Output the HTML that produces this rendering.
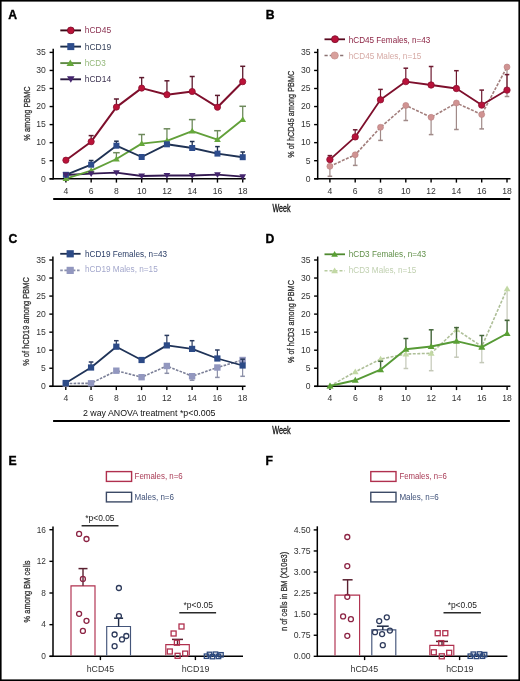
<!DOCTYPE html><html><head><meta charset="utf-8"><style>html,body{margin:0;padding:0;background:#fff;}svg{display:block;will-change:transform;}</style></head><body>
<svg width="520" height="681" viewBox="0 0 520 681" font-family='"Liberation Sans", sans-serif'>
<rect x="0" y="0" width="520" height="681" fill="#fff"/>
<text x="8.2" y="18.5" font-size="12.2" fill="#000" text-anchor="start" font-weight="bold" stroke="#000" stroke-width="0.35">A</text>
<text x="265.8" y="18.6" font-size="12.2" fill="#000" text-anchor="start" font-weight="bold" stroke="#000" stroke-width="0.35">B</text>
<text x="8.6" y="242.8" font-size="12.2" fill="#000" text-anchor="start" font-weight="bold" stroke="#000" stroke-width="0.35">C</text>
<text x="265.6" y="242.8" font-size="12.2" fill="#000" text-anchor="start" font-weight="bold" stroke="#000" stroke-width="0.35">D</text>
<text x="8.6" y="464.8" font-size="12.2" fill="#000" text-anchor="start" font-weight="bold" stroke="#000" stroke-width="0.35">E</text>
<text x="265.6" y="464.8" font-size="12.2" fill="#000" text-anchor="start" font-weight="bold" stroke="#000" stroke-width="0.35">F</text>
<line x1="53.2" y1="48.8" x2="53.2" y2="179.55" stroke="#000" stroke-width="1.5" stroke-linecap="butt"/>
<line x1="49.6" y1="52.4" x2="53.2" y2="52.4" stroke="#000" stroke-width="1.4" stroke-linecap="butt"/>
<text x="45.9" y="55.2" font-size="8.6" fill="#333" text-anchor="end">35</text>
<line x1="49.6" y1="70.45" x2="53.2" y2="70.45" stroke="#000" stroke-width="1.4" stroke-linecap="butt"/>
<text x="45.9" y="73.25" font-size="8.6" fill="#333" text-anchor="end">30</text>
<line x1="49.6" y1="88.5" x2="53.2" y2="88.5" stroke="#000" stroke-width="1.4" stroke-linecap="butt"/>
<text x="45.9" y="91.3" font-size="8.6" fill="#333" text-anchor="end">25</text>
<line x1="49.6" y1="106.55" x2="53.2" y2="106.55" stroke="#000" stroke-width="1.4" stroke-linecap="butt"/>
<text x="45.9" y="109.35" font-size="8.6" fill="#333" text-anchor="end">20</text>
<line x1="49.6" y1="124.6" x2="53.2" y2="124.6" stroke="#000" stroke-width="1.4" stroke-linecap="butt"/>
<text x="45.9" y="127.4" font-size="8.6" fill="#333" text-anchor="end">15</text>
<line x1="49.6" y1="142.65" x2="53.2" y2="142.65" stroke="#000" stroke-width="1.4" stroke-linecap="butt"/>
<text x="45.9" y="145.45" font-size="8.6" fill="#333" text-anchor="end">10</text>
<line x1="49.6" y1="160.7" x2="53.2" y2="160.7" stroke="#000" stroke-width="1.4" stroke-linecap="butt"/>
<text x="45.9" y="163.5" font-size="8.6" fill="#333" text-anchor="end">5</text>
<line x1="49.6" y1="178.75" x2="53.2" y2="178.75" stroke="#000" stroke-width="1.4" stroke-linecap="butt"/>
<text x="45.9" y="181.55" font-size="8.6" fill="#333" text-anchor="end">0</text>
<line x1="49.6" y1="178.8" x2="53.2" y2="178.8" stroke="#000" stroke-width="1.5" stroke-linecap="butt"/>
<line x1="53.2" y1="178.8" x2="245.6" y2="178.8" stroke="#000" stroke-width="1.5" stroke-linecap="butt"/>
<line x1="65.9" y1="178.8" x2="65.9" y2="182.6" stroke="#000" stroke-width="1.4" stroke-linecap="butt"/>
<line x1="91.16" y1="178.8" x2="91.16" y2="182.6" stroke="#000" stroke-width="1.4" stroke-linecap="butt"/>
<line x1="116.42" y1="178.8" x2="116.42" y2="182.6" stroke="#000" stroke-width="1.4" stroke-linecap="butt"/>
<line x1="141.68" y1="178.8" x2="141.68" y2="182.6" stroke="#000" stroke-width="1.4" stroke-linecap="butt"/>
<line x1="166.94" y1="178.8" x2="166.94" y2="182.6" stroke="#000" stroke-width="1.4" stroke-linecap="butt"/>
<line x1="192.2" y1="178.8" x2="192.2" y2="182.6" stroke="#000" stroke-width="1.4" stroke-linecap="butt"/>
<line x1="217.46" y1="178.8" x2="217.46" y2="182.6" stroke="#000" stroke-width="1.4" stroke-linecap="butt"/>
<line x1="242.72" y1="178.8" x2="242.72" y2="182.6" stroke="#000" stroke-width="1.4" stroke-linecap="butt"/>
<text x="65.9" y="193.7" font-size="8.6" fill="#333" text-anchor="middle">4</text>
<text x="91.16" y="193.7" font-size="8.6" fill="#333" text-anchor="middle">6</text>
<text x="116.42" y="193.7" font-size="8.6" fill="#333" text-anchor="middle">8</text>
<text x="141.68" y="193.7" font-size="8.6" fill="#333" text-anchor="middle">10</text>
<text x="166.94" y="193.7" font-size="8.6" fill="#333" text-anchor="middle">12</text>
<text x="192.2" y="193.7" font-size="8.6" fill="#333" text-anchor="middle">14</text>
<text x="217.46" y="193.7" font-size="8.6" fill="#333" text-anchor="middle">16</text>
<text x="242.72" y="193.7" font-size="8.6" fill="#333" text-anchor="middle">18</text>
<text x="29.9" y="113.5" font-size="9.8" fill="#333" text-anchor="middle" textLength="54.3" lengthAdjust="spacingAndGlyphs" transform="rotate(-90 29.9 113.5)" stroke="#333" stroke-width="0.3">% among PBMC</text>
<line x1="116.42" y1="159" x2="116.42" y2="152.7" stroke="#6e8a5c" stroke-width="1.3" stroke-linecap="butt"/>
<line x1="113.12" y1="152.7" x2="119.72" y2="152.7" stroke="#6e8a5c" stroke-width="1.5" stroke-linecap="butt"/>
<line x1="141.68" y1="143.6" x2="141.68" y2="134.5" stroke="#6e8a5c" stroke-width="1.3" stroke-linecap="butt"/>
<line x1="138.38" y1="134.5" x2="144.98" y2="134.5" stroke="#6e8a5c" stroke-width="1.5" stroke-linecap="butt"/>
<line x1="166.94" y1="140.9" x2="166.94" y2="128.8" stroke="#6e8a5c" stroke-width="1.3" stroke-linecap="butt"/>
<line x1="163.64" y1="128.8" x2="170.24" y2="128.8" stroke="#6e8a5c" stroke-width="1.5" stroke-linecap="butt"/>
<line x1="192.2" y1="131.2" x2="192.2" y2="119.6" stroke="#6e8a5c" stroke-width="1.3" stroke-linecap="butt"/>
<line x1="188.9" y1="119.6" x2="195.5" y2="119.6" stroke="#6e8a5c" stroke-width="1.5" stroke-linecap="butt"/>
<line x1="217.46" y1="139.7" x2="217.46" y2="130.7" stroke="#6e8a5c" stroke-width="1.3" stroke-linecap="butt"/>
<line x1="214.16" y1="130.7" x2="220.76" y2="130.7" stroke="#6e8a5c" stroke-width="1.5" stroke-linecap="butt"/>
<line x1="242.72" y1="119.6" x2="242.72" y2="106.3" stroke="#6e8a5c" stroke-width="1.3" stroke-linecap="butt"/>
<line x1="239.42" y1="106.3" x2="246.02" y2="106.3" stroke="#6e8a5c" stroke-width="1.5" stroke-linecap="butt"/>
<line x1="91.16" y1="164.7" x2="91.16" y2="160.5" stroke="#1e2e4e" stroke-width="1.3" stroke-linecap="butt"/>
<line x1="88.86" y1="160.5" x2="93.46" y2="160.5" stroke="#1e2e4e" stroke-width="1.5" stroke-linecap="butt"/>
<line x1="116.42" y1="145.7" x2="116.42" y2="141.2" stroke="#1e2e4e" stroke-width="1.3" stroke-linecap="butt"/>
<line x1="114.12" y1="141.2" x2="118.72" y2="141.2" stroke="#1e2e4e" stroke-width="1.5" stroke-linecap="butt"/>
<line x1="166.94" y1="144.3" x2="166.94" y2="141.5" stroke="#1e2e4e" stroke-width="1.3" stroke-linecap="butt"/>
<line x1="164.64" y1="141.5" x2="169.24" y2="141.5" stroke="#1e2e4e" stroke-width="1.5" stroke-linecap="butt"/>
<line x1="192.2" y1="148" x2="192.2" y2="141.5" stroke="#1e2e4e" stroke-width="1.3" stroke-linecap="butt"/>
<line x1="189.9" y1="141.5" x2="194.5" y2="141.5" stroke="#1e2e4e" stroke-width="1.5" stroke-linecap="butt"/>
<line x1="217.46" y1="153.6" x2="217.46" y2="146.6" stroke="#1e2e4e" stroke-width="1.3" stroke-linecap="butt"/>
<line x1="215.16" y1="146.6" x2="219.76" y2="146.6" stroke="#1e2e4e" stroke-width="1.5" stroke-linecap="butt"/>
<line x1="242.72" y1="157.2" x2="242.72" y2="152" stroke="#1e2e4e" stroke-width="1.3" stroke-linecap="butt"/>
<line x1="240.42" y1="152" x2="245.02" y2="152" stroke="#1e2e4e" stroke-width="1.5" stroke-linecap="butt"/>
<line x1="91.16" y1="141.7" x2="91.16" y2="135.6" stroke="#5e1a2e" stroke-width="1.3" stroke-linecap="butt"/>
<line x1="88.66" y1="135.6" x2="93.66" y2="135.6" stroke="#5e1a2e" stroke-width="1.5" stroke-linecap="butt"/>
<line x1="116.42" y1="107.1" x2="116.42" y2="99" stroke="#5e1a2e" stroke-width="1.3" stroke-linecap="butt"/>
<line x1="113.92" y1="99" x2="118.92" y2="99" stroke="#5e1a2e" stroke-width="1.5" stroke-linecap="butt"/>
<line x1="141.68" y1="88.1" x2="141.68" y2="77.6" stroke="#5e1a2e" stroke-width="1.3" stroke-linecap="butt"/>
<line x1="139.18" y1="77.6" x2="144.18" y2="77.6" stroke="#5e1a2e" stroke-width="1.5" stroke-linecap="butt"/>
<line x1="166.94" y1="94.7" x2="166.94" y2="80.8" stroke="#5e1a2e" stroke-width="1.3" stroke-linecap="butt"/>
<line x1="164.44" y1="80.8" x2="169.44" y2="80.8" stroke="#5e1a2e" stroke-width="1.5" stroke-linecap="butt"/>
<line x1="192.2" y1="91.5" x2="192.2" y2="76.5" stroke="#5e1a2e" stroke-width="1.3" stroke-linecap="butt"/>
<line x1="189.7" y1="76.5" x2="194.7" y2="76.5" stroke="#5e1a2e" stroke-width="1.5" stroke-linecap="butt"/>
<line x1="217.46" y1="107.2" x2="217.46" y2="95.4" stroke="#5e1a2e" stroke-width="1.3" stroke-linecap="butt"/>
<line x1="214.96" y1="95.4" x2="219.96" y2="95.4" stroke="#5e1a2e" stroke-width="1.5" stroke-linecap="butt"/>
<line x1="242.72" y1="81.7" x2="242.72" y2="66.3" stroke="#5e1a2e" stroke-width="1.3" stroke-linecap="butt"/>
<line x1="240.22" y1="66.3" x2="245.22" y2="66.3" stroke="#5e1a2e" stroke-width="1.5" stroke-linecap="butt"/>
<polyline points="65.9,175 91.16,173.6 116.42,172.6 141.68,176 166.94,175.5 192.2,175.5 217.46,174.6 242.72,176.6" fill="none" stroke="#341a52" stroke-width="1.9" stroke-linejoin="round"/>
<polyline points="65.9,178.6 91.16,170.6 116.42,159 141.68,143.6 166.94,140.9 192.2,131.2 217.46,139.7 242.72,119.6" fill="none" stroke="#62a03a" stroke-width="1.9" stroke-linejoin="round"/>
<polyline points="65.9,174.8 91.16,164.7 116.42,145.7 141.68,157 166.94,144.3 192.2,148 217.46,153.6 242.72,157.2" fill="none" stroke="#1f3254" stroke-width="1.9" stroke-linejoin="round"/>
<polyline points="65.9,160.2 91.16,141.7 116.42,107.1 141.68,88.1 166.94,94.7 192.2,91.5 217.46,107.2 242.72,81.7" fill="none" stroke="#7e0f2c" stroke-width="2" stroke-linejoin="round"/>
<polygon points="65.9,175.24 62.54,181 69.26,181" fill="#66a83c"/>
<polygon points="91.16,167.24 87.8,173 94.52,173" fill="#66a83c"/>
<polygon points="116.42,155.64 113.06,161.4 119.78,161.4" fill="#66a83c"/>
<polygon points="141.68,140.24 138.32,146 145.04,146" fill="#66a83c"/>
<polygon points="166.94,137.54 163.58,143.3 170.3,143.3" fill="#66a83c"/>
<polygon points="192.2,127.84 188.84,133.6 195.56,133.6" fill="#66a83c"/>
<polygon points="217.46,136.34 214.1,142.1 220.82,142.1" fill="#66a83c"/>
<polygon points="242.72,116.24 239.36,122 246.08,122" fill="#66a83c"/>
<rect x="62.9" y="171.8" width="6" height="6" fill="#2d4c8c"/>
<rect x="88.16" y="161.7" width="6" height="6" fill="#2d4c8c"/>
<rect x="113.42" y="142.7" width="6" height="6" fill="#2d4c8c"/>
<rect x="138.68" y="154" width="6" height="6" fill="#2d4c8c"/>
<rect x="163.94" y="141.3" width="6" height="6" fill="#2d4c8c"/>
<rect x="189.2" y="145" width="6" height="6" fill="#2d4c8c"/>
<rect x="214.46" y="150.6" width="6" height="6" fill="#2d4c8c"/>
<rect x="239.72" y="154.2" width="6" height="6" fill="#2d4c8c"/>
<polygon points="65.9,178.36 62.54,172.6 69.26,172.6" fill="#44256e"/>
<polygon points="91.16,176.96 87.8,171.2 94.52,171.2" fill="#44256e"/>
<polygon points="116.42,175.96 113.06,170.2 119.78,170.2" fill="#44256e"/>
<polygon points="141.68,179.36 138.32,173.6 145.04,173.6" fill="#44256e"/>
<polygon points="166.94,178.86 163.58,173.1 170.3,173.1" fill="#44256e"/>
<polygon points="192.2,178.86 188.84,173.1 195.56,173.1" fill="#44256e"/>
<polygon points="217.46,177.96 214.1,172.2 220.82,172.2" fill="#44256e"/>
<polygon points="242.72,179.96 239.36,174.2 246.08,174.2" fill="#44256e"/>
<circle cx="65.9" cy="160.2" r="3.1" fill="#bb1238" stroke="#8a1030" stroke-width="0.8"/>
<circle cx="91.16" cy="141.7" r="3.1" fill="#bb1238" stroke="#8a1030" stroke-width="0.8"/>
<circle cx="116.42" cy="107.1" r="3.1" fill="#bb1238" stroke="#8a1030" stroke-width="0.8"/>
<circle cx="141.68" cy="88.1" r="3.1" fill="#bb1238" stroke="#8a1030" stroke-width="0.8"/>
<circle cx="166.94" cy="94.7" r="3.1" fill="#bb1238" stroke="#8a1030" stroke-width="0.8"/>
<circle cx="192.2" cy="91.5" r="3.1" fill="#bb1238" stroke="#8a1030" stroke-width="0.8"/>
<circle cx="217.46" cy="107.2" r="3.1" fill="#bb1238" stroke="#8a1030" stroke-width="0.8"/>
<circle cx="242.72" cy="81.7" r="3.1" fill="#bb1238" stroke="#8a1030" stroke-width="0.8"/>
<line x1="60.3" y1="30.4" x2="81" y2="30.4" stroke="#3a0a18" stroke-width="1.9" stroke-linecap="butt"/>
<circle cx="70.8" cy="30.4" r="3.4" fill="#bb1238" stroke="#7a0a28" stroke-width="0.8"/>
<text x="84.8" y="33.3" font-size="8.6" fill="#8a3050" text-anchor="start" textLength="26.3" lengthAdjust="spacingAndGlyphs">hCD45</text>
<line x1="60.3" y1="46.6" x2="81" y2="46.6" stroke="#1c2c48" stroke-width="1.9" stroke-linecap="butt"/>
<rect x="67.3" y="43.1" width="7" height="7" fill="#2d4c8c"/>
<text x="84.8" y="49.5" font-size="8.6" fill="#34405a" text-anchor="start" textLength="26.3" lengthAdjust="spacingAndGlyphs">hCD19</text>
<line x1="60.3" y1="63.1" x2="81" y2="63.1" stroke="#5f8a45" stroke-width="1.9" stroke-linecap="butt"/>
<polygon points="70.3,59.62 66.52,66.1 74.08,66.1" fill="#66a83c"/>
<text x="84.8" y="66" font-size="8.6" fill="#94b87a" text-anchor="start" textLength="20.9" lengthAdjust="spacingAndGlyphs">hCD3</text>
<line x1="60.3" y1="79.3" x2="81" y2="79.3" stroke="#2a1a40" stroke-width="1.9" stroke-linecap="butt"/>
<polygon points="70.8,82.78 67.02,76.3 74.58,76.3" fill="#44256e"/>
<text x="84.8" y="82.2" font-size="8.6" fill="#3c3250" text-anchor="start" textLength="26.3" lengthAdjust="spacingAndGlyphs">hCD14</text>
<line x1="317.7" y1="48.9" x2="317.7" y2="179.55" stroke="#000" stroke-width="1.5" stroke-linecap="butt"/>
<line x1="314.1" y1="52.4" x2="317.7" y2="52.4" stroke="#000" stroke-width="1.4" stroke-linecap="butt"/>
<text x="310.5" y="55.2" font-size="8.6" fill="#333" text-anchor="end">35</text>
<line x1="314.1" y1="70.45" x2="317.7" y2="70.45" stroke="#000" stroke-width="1.4" stroke-linecap="butt"/>
<text x="310.5" y="73.25" font-size="8.6" fill="#333" text-anchor="end">30</text>
<line x1="314.1" y1="88.5" x2="317.7" y2="88.5" stroke="#000" stroke-width="1.4" stroke-linecap="butt"/>
<text x="310.5" y="91.3" font-size="8.6" fill="#333" text-anchor="end">25</text>
<line x1="314.1" y1="106.55" x2="317.7" y2="106.55" stroke="#000" stroke-width="1.4" stroke-linecap="butt"/>
<text x="310.5" y="109.35" font-size="8.6" fill="#333" text-anchor="end">20</text>
<line x1="314.1" y1="124.6" x2="317.7" y2="124.6" stroke="#000" stroke-width="1.4" stroke-linecap="butt"/>
<text x="310.5" y="127.4" font-size="8.6" fill="#333" text-anchor="end">15</text>
<line x1="314.1" y1="142.65" x2="317.7" y2="142.65" stroke="#000" stroke-width="1.4" stroke-linecap="butt"/>
<text x="310.5" y="145.45" font-size="8.6" fill="#333" text-anchor="end">10</text>
<line x1="314.1" y1="160.7" x2="317.7" y2="160.7" stroke="#000" stroke-width="1.4" stroke-linecap="butt"/>
<text x="310.5" y="163.5" font-size="8.6" fill="#333" text-anchor="end">5</text>
<line x1="314.1" y1="178.75" x2="317.7" y2="178.75" stroke="#000" stroke-width="1.4" stroke-linecap="butt"/>
<text x="310.5" y="181.55" font-size="8.6" fill="#333" text-anchor="end">0</text>
<line x1="314.2" y1="178.8" x2="317.7" y2="178.8" stroke="#000" stroke-width="1.5" stroke-linecap="butt"/>
<line x1="317.7" y1="178.8" x2="510.5" y2="178.8" stroke="#000" stroke-width="1.5" stroke-linecap="butt"/>
<line x1="329.9" y1="178.8" x2="329.9" y2="182.6" stroke="#000" stroke-width="1.4" stroke-linecap="butt"/>
<line x1="355.2" y1="178.8" x2="355.2" y2="182.6" stroke="#000" stroke-width="1.4" stroke-linecap="butt"/>
<line x1="380.5" y1="178.8" x2="380.5" y2="182.6" stroke="#000" stroke-width="1.4" stroke-linecap="butt"/>
<line x1="405.8" y1="178.8" x2="405.8" y2="182.6" stroke="#000" stroke-width="1.4" stroke-linecap="butt"/>
<line x1="431.1" y1="178.8" x2="431.1" y2="182.6" stroke="#000" stroke-width="1.4" stroke-linecap="butt"/>
<line x1="456.4" y1="178.8" x2="456.4" y2="182.6" stroke="#000" stroke-width="1.4" stroke-linecap="butt"/>
<line x1="481.7" y1="178.8" x2="481.7" y2="182.6" stroke="#000" stroke-width="1.4" stroke-linecap="butt"/>
<line x1="507" y1="178.8" x2="507" y2="182.6" stroke="#000" stroke-width="1.4" stroke-linecap="butt"/>
<text x="329.9" y="193.7" font-size="8.6" fill="#333" text-anchor="middle">4</text>
<text x="355.2" y="193.7" font-size="8.6" fill="#333" text-anchor="middle">6</text>
<text x="380.5" y="193.7" font-size="8.6" fill="#333" text-anchor="middle">8</text>
<text x="405.8" y="193.7" font-size="8.6" fill="#333" text-anchor="middle">10</text>
<text x="431.1" y="193.7" font-size="8.6" fill="#333" text-anchor="middle">12</text>
<text x="456.4" y="193.7" font-size="8.6" fill="#333" text-anchor="middle">14</text>
<text x="481.7" y="193.7" font-size="8.6" fill="#333" text-anchor="middle">16</text>
<text x="507" y="193.7" font-size="8.6" fill="#333" text-anchor="middle">18</text>
<text x="293.9" y="114.2" font-size="9.8" fill="#333" text-anchor="middle" textLength="87.2" lengthAdjust="spacingAndGlyphs" transform="rotate(-90 293.9 114.2)" stroke="#333" stroke-width="0.3">% of hCD45 among PBMC</text>
<line x1="329.9" y1="166.3" x2="329.9" y2="176.3" stroke="#a08a88" stroke-width="1.2" stroke-linecap="butt"/>
<line x1="327.6" y1="176.3" x2="332.2" y2="176.3" stroke="#a08a88" stroke-width="1.5" stroke-linecap="butt"/>
<line x1="355.2" y1="154.8" x2="355.2" y2="165.4" stroke="#a08a88" stroke-width="1.2" stroke-linecap="butt"/>
<line x1="352.9" y1="165.4" x2="357.5" y2="165.4" stroke="#a08a88" stroke-width="1.5" stroke-linecap="butt"/>
<line x1="380.5" y1="127.3" x2="380.5" y2="140.4" stroke="#a08a88" stroke-width="1.2" stroke-linecap="butt"/>
<line x1="378.2" y1="140.4" x2="382.8" y2="140.4" stroke="#a08a88" stroke-width="1.5" stroke-linecap="butt"/>
<line x1="405.8" y1="105.4" x2="405.8" y2="120.5" stroke="#a08a88" stroke-width="1.2" stroke-linecap="butt"/>
<line x1="403.5" y1="120.5" x2="408.1" y2="120.5" stroke="#a08a88" stroke-width="1.5" stroke-linecap="butt"/>
<line x1="431.1" y1="117.3" x2="431.1" y2="134.6" stroke="#a08a88" stroke-width="1.2" stroke-linecap="butt"/>
<line x1="428.8" y1="134.6" x2="433.4" y2="134.6" stroke="#a08a88" stroke-width="1.5" stroke-linecap="butt"/>
<line x1="456.4" y1="103" x2="456.4" y2="129.5" stroke="#a08a88" stroke-width="1.2" stroke-linecap="butt"/>
<line x1="454.1" y1="129.5" x2="458.7" y2="129.5" stroke="#a08a88" stroke-width="1.5" stroke-linecap="butt"/>
<line x1="481.7" y1="114.5" x2="481.7" y2="128.9" stroke="#a08a88" stroke-width="1.2" stroke-linecap="butt"/>
<line x1="479.4" y1="128.9" x2="484" y2="128.9" stroke="#a08a88" stroke-width="1.5" stroke-linecap="butt"/>
<line x1="507" y1="67" x2="507" y2="96.5" stroke="#a08a88" stroke-width="1.2" stroke-linecap="butt"/>
<line x1="504.7" y1="96.5" x2="509.3" y2="96.5" stroke="#a08a88" stroke-width="1.5" stroke-linecap="butt"/>
<polyline points="329.9,166.3 355.2,154.8 380.5,127.3 405.8,105.4 431.1,117.3 456.4,103 481.7,114.5 507,67" fill="none" stroke="#a27e7c" stroke-width="1.6" stroke-linejoin="round" stroke-dasharray="3,1.4"/>
<circle cx="329.9" cy="166.3" r="3" fill="#d09392" stroke="#b98080" stroke-width="0.6"/>
<circle cx="355.2" cy="154.8" r="3" fill="#d09392" stroke="#b98080" stroke-width="0.6"/>
<circle cx="380.5" cy="127.3" r="3" fill="#d09392" stroke="#b98080" stroke-width="0.6"/>
<circle cx="405.8" cy="105.4" r="3" fill="#d09392" stroke="#b98080" stroke-width="0.6"/>
<circle cx="431.1" cy="117.3" r="3" fill="#d09392" stroke="#b98080" stroke-width="0.6"/>
<circle cx="456.4" cy="103" r="3" fill="#d09392" stroke="#b98080" stroke-width="0.6"/>
<circle cx="481.7" cy="114.5" r="3" fill="#d09392" stroke="#b98080" stroke-width="0.6"/>
<circle cx="507" cy="67" r="3" fill="#d09392" stroke="#b98080" stroke-width="0.6"/>
<line x1="329.9" y1="159.6" x2="329.9" y2="155.6" stroke="#6e1a30" stroke-width="1.2" stroke-linecap="butt"/>
<line x1="327.6" y1="155.6" x2="332.2" y2="155.6" stroke="#6e1a30" stroke-width="1.5" stroke-linecap="butt"/>
<line x1="355.2" y1="136.9" x2="355.2" y2="129.8" stroke="#6e1a30" stroke-width="1.2" stroke-linecap="butt"/>
<line x1="352.9" y1="129.8" x2="357.5" y2="129.8" stroke="#6e1a30" stroke-width="1.5" stroke-linecap="butt"/>
<line x1="380.5" y1="99.8" x2="380.5" y2="89.4" stroke="#6e1a30" stroke-width="1.2" stroke-linecap="butt"/>
<line x1="378.2" y1="89.4" x2="382.8" y2="89.4" stroke="#6e1a30" stroke-width="1.5" stroke-linecap="butt"/>
<line x1="405.8" y1="81.6" x2="405.8" y2="68.2" stroke="#6e1a30" stroke-width="1.2" stroke-linecap="butt"/>
<line x1="403.5" y1="68.2" x2="408.1" y2="68.2" stroke="#6e1a30" stroke-width="1.5" stroke-linecap="butt"/>
<line x1="431.1" y1="85" x2="431.1" y2="66.5" stroke="#6e1a30" stroke-width="1.2" stroke-linecap="butt"/>
<line x1="428.8" y1="66.5" x2="433.4" y2="66.5" stroke="#6e1a30" stroke-width="1.5" stroke-linecap="butt"/>
<line x1="456.4" y1="88.5" x2="456.4" y2="70.7" stroke="#6e1a30" stroke-width="1.2" stroke-linecap="butt"/>
<line x1="454.1" y1="70.7" x2="458.7" y2="70.7" stroke="#6e1a30" stroke-width="1.5" stroke-linecap="butt"/>
<line x1="481.7" y1="105.1" x2="481.7" y2="90.1" stroke="#6e1a30" stroke-width="1.2" stroke-linecap="butt"/>
<line x1="479.4" y1="90.1" x2="484" y2="90.1" stroke="#6e1a30" stroke-width="1.5" stroke-linecap="butt"/>
<line x1="507" y1="90.1" x2="507" y2="74.6" stroke="#6e1a30" stroke-width="1.2" stroke-linecap="butt"/>
<line x1="504.7" y1="74.6" x2="509.3" y2="74.6" stroke="#6e1a30" stroke-width="1.5" stroke-linecap="butt"/>
<polyline points="329.9,159.6 355.2,136.9 380.5,99.8 405.8,81.6 431.1,85 456.4,88.5 481.7,105.1 507,90.1" fill="none" stroke="#7e0f2c" stroke-width="1.8" stroke-linejoin="round"/>
<circle cx="329.9" cy="159.6" r="3.2" fill="#b8123a" stroke="#8a1030" stroke-width="0.8"/>
<circle cx="355.2" cy="136.9" r="3.2" fill="#b8123a" stroke="#8a1030" stroke-width="0.8"/>
<circle cx="380.5" cy="99.8" r="3.2" fill="#b8123a" stroke="#8a1030" stroke-width="0.8"/>
<circle cx="405.8" cy="81.6" r="3.2" fill="#b8123a" stroke="#8a1030" stroke-width="0.8"/>
<circle cx="431.1" cy="85" r="3.2" fill="#b8123a" stroke="#8a1030" stroke-width="0.8"/>
<circle cx="456.4" cy="88.5" r="3.2" fill="#b8123a" stroke="#8a1030" stroke-width="0.8"/>
<circle cx="481.7" cy="105.1" r="3.2" fill="#b8123a" stroke="#8a1030" stroke-width="0.8"/>
<circle cx="507" cy="90.1" r="3.2" fill="#b8123a" stroke="#8a1030" stroke-width="0.8"/>
<line x1="324.5" y1="39.3" x2="345" y2="39.3" stroke="#5a0a20" stroke-width="1.8" stroke-linecap="butt"/>
<circle cx="335" cy="39.2" r="3.5" fill="#b8123a" stroke="#7a0a28" stroke-width="0.8"/>
<text x="348.8" y="42.6" font-size="8.4" fill="#8c2444" text-anchor="start" textLength="81.6" lengthAdjust="spacingAndGlyphs">hCD45 Females, n=43</text>
<line x1="324.5" y1="55.5" x2="345" y2="55.5" stroke="#8a7272" stroke-width="1.6" stroke-linecap="butt" stroke-dasharray="3.2,2"/>
<circle cx="334.7" cy="55.5" r="3.6" fill="#d8a09c" stroke="#c48e8a" stroke-width="0.7"/>
<text x="348.8" y="58.9" font-size="8.4" fill="#d6aaa5" text-anchor="start" textLength="72.5" lengthAdjust="spacingAndGlyphs">hCD45 Males, n=15</text>
<line x1="52.9" y1="256.5" x2="52.9" y2="387.05" stroke="#000" stroke-width="1.5" stroke-linecap="butt"/>
<line x1="49.3" y1="260" x2="52.9" y2="260" stroke="#000" stroke-width="1.4" stroke-linecap="butt"/>
<text x="45.9" y="262.8" font-size="8.6" fill="#333" text-anchor="end">35</text>
<line x1="49.3" y1="278.04" x2="52.9" y2="278.04" stroke="#000" stroke-width="1.4" stroke-linecap="butt"/>
<text x="45.9" y="280.84" font-size="8.6" fill="#333" text-anchor="end">30</text>
<line x1="49.3" y1="296.08" x2="52.9" y2="296.08" stroke="#000" stroke-width="1.4" stroke-linecap="butt"/>
<text x="45.9" y="298.88" font-size="8.6" fill="#333" text-anchor="end">25</text>
<line x1="49.3" y1="314.12" x2="52.9" y2="314.12" stroke="#000" stroke-width="1.4" stroke-linecap="butt"/>
<text x="45.9" y="316.92" font-size="8.6" fill="#333" text-anchor="end">20</text>
<line x1="49.3" y1="332.16" x2="52.9" y2="332.16" stroke="#000" stroke-width="1.4" stroke-linecap="butt"/>
<text x="45.9" y="334.96" font-size="8.6" fill="#333" text-anchor="end">15</text>
<line x1="49.3" y1="350.2" x2="52.9" y2="350.2" stroke="#000" stroke-width="1.4" stroke-linecap="butt"/>
<text x="45.9" y="353" font-size="8.6" fill="#333" text-anchor="end">10</text>
<line x1="49.3" y1="368.24" x2="52.9" y2="368.24" stroke="#000" stroke-width="1.4" stroke-linecap="butt"/>
<text x="45.9" y="371.04" font-size="8.6" fill="#333" text-anchor="end">5</text>
<line x1="49.3" y1="386.28" x2="52.9" y2="386.28" stroke="#000" stroke-width="1.4" stroke-linecap="butt"/>
<text x="45.9" y="389.08" font-size="8.6" fill="#333" text-anchor="end">0</text>
<line x1="49.4" y1="386.3" x2="52.9" y2="386.3" stroke="#000" stroke-width="1.5" stroke-linecap="butt"/>
<line x1="52.9" y1="386.3" x2="245.6" y2="386.3" stroke="#000" stroke-width="1.5" stroke-linecap="butt"/>
<line x1="65.8" y1="386.3" x2="65.8" y2="390.1" stroke="#000" stroke-width="1.4" stroke-linecap="butt"/>
<line x1="91.06" y1="386.3" x2="91.06" y2="390.1" stroke="#000" stroke-width="1.4" stroke-linecap="butt"/>
<line x1="116.32" y1="386.3" x2="116.32" y2="390.1" stroke="#000" stroke-width="1.4" stroke-linecap="butt"/>
<line x1="141.58" y1="386.3" x2="141.58" y2="390.1" stroke="#000" stroke-width="1.4" stroke-linecap="butt"/>
<line x1="166.84" y1="386.3" x2="166.84" y2="390.1" stroke="#000" stroke-width="1.4" stroke-linecap="butt"/>
<line x1="192.1" y1="386.3" x2="192.1" y2="390.1" stroke="#000" stroke-width="1.4" stroke-linecap="butt"/>
<line x1="217.36" y1="386.3" x2="217.36" y2="390.1" stroke="#000" stroke-width="1.4" stroke-linecap="butt"/>
<line x1="242.62" y1="386.3" x2="242.62" y2="390.1" stroke="#000" stroke-width="1.4" stroke-linecap="butt"/>
<text x="65.8" y="401" font-size="8.6" fill="#333" text-anchor="middle">4</text>
<text x="91.06" y="401" font-size="8.6" fill="#333" text-anchor="middle">6</text>
<text x="116.32" y="401" font-size="8.6" fill="#333" text-anchor="middle">8</text>
<text x="141.58" y="401" font-size="8.6" fill="#333" text-anchor="middle">10</text>
<text x="166.84" y="401" font-size="8.6" fill="#333" text-anchor="middle">12</text>
<text x="192.1" y="401" font-size="8.6" fill="#333" text-anchor="middle">14</text>
<text x="217.36" y="401" font-size="8.6" fill="#333" text-anchor="middle">16</text>
<text x="242.62" y="401" font-size="8.6" fill="#333" text-anchor="middle">18</text>
<text x="28.9" y="321.5" font-size="9.8" fill="#333" text-anchor="middle" textLength="88.7" lengthAdjust="spacingAndGlyphs" transform="rotate(-90 28.9 321.5)" stroke="#333" stroke-width="0.3">% of hCD19 among PBMC</text>
<line x1="166.84" y1="366" x2="166.84" y2="373.3" stroke="#8c90a8" stroke-width="1.2" stroke-linecap="butt"/>
<line x1="164.54" y1="373.3" x2="169.14" y2="373.3" stroke="#8c90a8" stroke-width="1.5" stroke-linecap="butt"/>
<line x1="192.1" y1="376.2" x2="192.1" y2="380.2" stroke="#8c90a8" stroke-width="1.2" stroke-linecap="butt"/>
<line x1="189.8" y1="380.2" x2="194.4" y2="380.2" stroke="#8c90a8" stroke-width="1.5" stroke-linecap="butt"/>
<line x1="217.36" y1="367.5" x2="217.36" y2="377.4" stroke="#8c90a8" stroke-width="1.2" stroke-linecap="butt"/>
<line x1="215.06" y1="377.4" x2="219.66" y2="377.4" stroke="#8c90a8" stroke-width="1.5" stroke-linecap="butt"/>
<line x1="242.62" y1="360" x2="242.62" y2="376.3" stroke="#8c90a8" stroke-width="1.2" stroke-linecap="butt"/>
<line x1="240.32" y1="376.3" x2="244.92" y2="376.3" stroke="#8c90a8" stroke-width="1.5" stroke-linecap="butt"/>
<polyline points="65.8,383.5 91.06,383.3 116.32,370.7 141.58,377.2 166.84,366 192.1,376.2 217.36,367.5 242.62,360" fill="none" stroke="#7c8098" stroke-width="1.6" stroke-linejoin="round" stroke-dasharray="2.6,1.3"/>
<rect x="62.6" y="380.3" width="6.4" height="6.4" fill="#9297bf"/>
<rect x="87.86" y="380.1" width="6.4" height="6.4" fill="#9297bf"/>
<rect x="113.12" y="367.5" width="6.4" height="6.4" fill="#9297bf"/>
<rect x="138.38" y="374" width="6.4" height="6.4" fill="#9297bf"/>
<rect x="163.64" y="362.8" width="6.4" height="6.4" fill="#9297bf"/>
<rect x="188.9" y="373" width="6.4" height="6.4" fill="#9297bf"/>
<rect x="214.16" y="364.3" width="6.4" height="6.4" fill="#9297bf"/>
<rect x="239.42" y="356.8" width="6.4" height="6.4" fill="#9297bf"/>
<line x1="91.06" y1="367.5" x2="91.06" y2="362" stroke="#2a3a5e" stroke-width="1.2" stroke-linecap="butt"/>
<line x1="88.76" y1="362" x2="93.36" y2="362" stroke="#2a3a5e" stroke-width="1.5" stroke-linecap="butt"/>
<line x1="116.32" y1="346.7" x2="116.32" y2="340.7" stroke="#2a3a5e" stroke-width="1.2" stroke-linecap="butt"/>
<line x1="114.02" y1="340.7" x2="118.62" y2="340.7" stroke="#2a3a5e" stroke-width="1.5" stroke-linecap="butt"/>
<line x1="166.84" y1="345.4" x2="166.84" y2="335.4" stroke="#2a3a5e" stroke-width="1.2" stroke-linecap="butt"/>
<line x1="164.54" y1="335.4" x2="169.14" y2="335.4" stroke="#2a3a5e" stroke-width="1.5" stroke-linecap="butt"/>
<line x1="192.1" y1="348.9" x2="192.1" y2="340.7" stroke="#2a3a5e" stroke-width="1.2" stroke-linecap="butt"/>
<line x1="189.8" y1="340.7" x2="194.4" y2="340.7" stroke="#2a3a5e" stroke-width="1.5" stroke-linecap="butt"/>
<line x1="217.36" y1="358.5" x2="217.36" y2="350" stroke="#2a3a5e" stroke-width="1.2" stroke-linecap="butt"/>
<line x1="215.06" y1="350" x2="219.66" y2="350" stroke="#2a3a5e" stroke-width="1.5" stroke-linecap="butt"/>
<line x1="242.62" y1="365.5" x2="242.62" y2="359.2" stroke="#2a3a5e" stroke-width="1.2" stroke-linecap="butt"/>
<line x1="240.32" y1="359.2" x2="244.92" y2="359.2" stroke="#2a3a5e" stroke-width="1.5" stroke-linecap="butt"/>
<polyline points="65.8,383 91.06,367.5 116.32,346.7 141.58,360 166.84,345.4 192.1,348.9 217.36,358.5 242.62,365.5" fill="none" stroke="#1f3358" stroke-width="1.8" stroke-linejoin="round"/>
<rect x="62.7" y="379.9" width="6.2" height="6.2" fill="#2c4a86"/>
<rect x="87.96" y="364.4" width="6.2" height="6.2" fill="#2c4a86"/>
<rect x="113.22" y="343.6" width="6.2" height="6.2" fill="#2c4a86"/>
<rect x="138.48" y="356.9" width="6.2" height="6.2" fill="#2c4a86"/>
<rect x="163.74" y="342.3" width="6.2" height="6.2" fill="#2c4a86"/>
<rect x="189" y="345.8" width="6.2" height="6.2" fill="#2c4a86"/>
<rect x="214.26" y="355.4" width="6.2" height="6.2" fill="#2c4a86"/>
<rect x="239.52" y="362.4" width="6.2" height="6.2" fill="#2c4a86"/>
<line x1="60.2" y1="253.8" x2="80.6" y2="253.8" stroke="#1f3050" stroke-width="1.8" stroke-linecap="butt"/>
<rect x="66.6" y="250.2" width="7.2" height="7.2" fill="#2c4a86"/>
<text x="85" y="257" font-size="8.4" fill="#2a3d66" text-anchor="start" textLength="82" lengthAdjust="spacingAndGlyphs">hCD19 Females, n=43</text>
<line x1="60.2" y1="270.4" x2="80.6" y2="270.4" stroke="#8a90aa" stroke-width="1.6" stroke-linecap="butt" stroke-dasharray="2.6,1.6"/>
<rect x="66.6" y="266.8" width="7.2" height="7.2" fill="#9297bf"/>
<text x="85" y="272.4" font-size="8.4" fill="#a4a8cc" text-anchor="start" textLength="72.7" lengthAdjust="spacingAndGlyphs">hCD19 Males, n=15</text>
<text x="82.9" y="416.3" font-size="8.8" fill="#111" text-anchor="start" textLength="132.6" lengthAdjust="spacingAndGlyphs">2 way ANOVA treatment *p&lt;0.005</text>
<line x1="317.7" y1="256.5" x2="317.7" y2="387.05" stroke="#000" stroke-width="1.5" stroke-linecap="butt"/>
<line x1="314.1" y1="260" x2="317.7" y2="260" stroke="#000" stroke-width="1.4" stroke-linecap="butt"/>
<text x="310.5" y="262.8" font-size="8.6" fill="#333" text-anchor="end">35</text>
<line x1="314.1" y1="278.04" x2="317.7" y2="278.04" stroke="#000" stroke-width="1.4" stroke-linecap="butt"/>
<text x="310.5" y="280.84" font-size="8.6" fill="#333" text-anchor="end">30</text>
<line x1="314.1" y1="296.08" x2="317.7" y2="296.08" stroke="#000" stroke-width="1.4" stroke-linecap="butt"/>
<text x="310.5" y="298.88" font-size="8.6" fill="#333" text-anchor="end">25</text>
<line x1="314.1" y1="314.12" x2="317.7" y2="314.12" stroke="#000" stroke-width="1.4" stroke-linecap="butt"/>
<text x="310.5" y="316.92" font-size="8.6" fill="#333" text-anchor="end">20</text>
<line x1="314.1" y1="332.16" x2="317.7" y2="332.16" stroke="#000" stroke-width="1.4" stroke-linecap="butt"/>
<text x="310.5" y="334.96" font-size="8.6" fill="#333" text-anchor="end">15</text>
<line x1="314.1" y1="350.2" x2="317.7" y2="350.2" stroke="#000" stroke-width="1.4" stroke-linecap="butt"/>
<text x="310.5" y="353" font-size="8.6" fill="#333" text-anchor="end">10</text>
<line x1="314.1" y1="368.24" x2="317.7" y2="368.24" stroke="#000" stroke-width="1.4" stroke-linecap="butt"/>
<text x="310.5" y="371.04" font-size="8.6" fill="#333" text-anchor="end">5</text>
<line x1="314.1" y1="386.28" x2="317.7" y2="386.28" stroke="#000" stroke-width="1.4" stroke-linecap="butt"/>
<text x="310.5" y="389.08" font-size="8.6" fill="#333" text-anchor="end">0</text>
<line x1="314.2" y1="386.3" x2="317.7" y2="386.3" stroke="#000" stroke-width="1.5" stroke-linecap="butt"/>
<line x1="317.7" y1="386.3" x2="510.4" y2="386.3" stroke="#000" stroke-width="1.5" stroke-linecap="butt"/>
<line x1="330" y1="386.3" x2="330" y2="390.1" stroke="#000" stroke-width="1.4" stroke-linecap="butt"/>
<line x1="355.3" y1="386.3" x2="355.3" y2="390.1" stroke="#000" stroke-width="1.4" stroke-linecap="butt"/>
<line x1="380.6" y1="386.3" x2="380.6" y2="390.1" stroke="#000" stroke-width="1.4" stroke-linecap="butt"/>
<line x1="405.9" y1="386.3" x2="405.9" y2="390.1" stroke="#000" stroke-width="1.4" stroke-linecap="butt"/>
<line x1="431.2" y1="386.3" x2="431.2" y2="390.1" stroke="#000" stroke-width="1.4" stroke-linecap="butt"/>
<line x1="456.5" y1="386.3" x2="456.5" y2="390.1" stroke="#000" stroke-width="1.4" stroke-linecap="butt"/>
<line x1="481.8" y1="386.3" x2="481.8" y2="390.1" stroke="#000" stroke-width="1.4" stroke-linecap="butt"/>
<line x1="507.1" y1="386.3" x2="507.1" y2="390.1" stroke="#000" stroke-width="1.4" stroke-linecap="butt"/>
<text x="330" y="401" font-size="8.6" fill="#333" text-anchor="middle">4</text>
<text x="355.3" y="401" font-size="8.6" fill="#333" text-anchor="middle">6</text>
<text x="380.6" y="401" font-size="8.6" fill="#333" text-anchor="middle">8</text>
<text x="405.9" y="401" font-size="8.6" fill="#333" text-anchor="middle">10</text>
<text x="431.2" y="401" font-size="8.6" fill="#333" text-anchor="middle">12</text>
<text x="456.5" y="401" font-size="8.6" fill="#333" text-anchor="middle">14</text>
<text x="481.8" y="401" font-size="8.6" fill="#333" text-anchor="middle">16</text>
<text x="507.1" y="401" font-size="8.6" fill="#333" text-anchor="middle">18</text>
<text x="293.9" y="321.5" font-size="9.8" fill="#333" text-anchor="middle" textLength="83" lengthAdjust="spacingAndGlyphs" transform="rotate(-90 293.9 321.5)" stroke="#333" stroke-width="0.3">% of hCD3 among PBMC</text>
<line x1="405.9" y1="354" x2="405.9" y2="368.5" stroke="#c4c8b8" stroke-width="1.2" stroke-linecap="butt"/>
<line x1="403.6" y1="368.5" x2="408.2" y2="368.5" stroke="#c4c8b8" stroke-width="1.5" stroke-linecap="butt"/>
<line x1="431.2" y1="353.3" x2="431.2" y2="370.7" stroke="#c4c8b8" stroke-width="1.2" stroke-linecap="butt"/>
<line x1="428.9" y1="370.7" x2="433.5" y2="370.7" stroke="#c4c8b8" stroke-width="1.5" stroke-linecap="butt"/>
<line x1="456.5" y1="329.6" x2="456.5" y2="357.2" stroke="#c4c8b8" stroke-width="1.2" stroke-linecap="butt"/>
<line x1="454.2" y1="357.2" x2="458.8" y2="357.2" stroke="#c4c8b8" stroke-width="1.5" stroke-linecap="butt"/>
<line x1="481.8" y1="346.5" x2="481.8" y2="362.6" stroke="#c4c8b8" stroke-width="1.2" stroke-linecap="butt"/>
<line x1="479.5" y1="362.6" x2="484.1" y2="362.6" stroke="#c4c8b8" stroke-width="1.5" stroke-linecap="butt"/>
<line x1="507.1" y1="288.8" x2="507.1" y2="320" stroke="#c4c8b8" stroke-width="1.2" stroke-linecap="butt"/>
<line x1="504.8" y1="320" x2="509.4" y2="320" stroke="#c4c8b8" stroke-width="1.5" stroke-linecap="butt"/>
<polyline points="330,386 355.3,371.8 380.6,359.1 405.9,354 431.2,353.3 456.5,329.6 481.8,346.5 507.1,288.8" fill="none" stroke="#aebf98" stroke-width="1.6" stroke-linejoin="round" stroke-dasharray="3,1.5"/>
<polygon points="330,382.64 326.64,388.4 333.36,388.4" fill="#c2d8a4"/>
<polygon points="355.3,368.44 351.94,374.2 358.66,374.2" fill="#c2d8a4"/>
<polygon points="380.6,355.74 377.24,361.5 383.96,361.5" fill="#c2d8a4"/>
<polygon points="405.9,350.64 402.54,356.4 409.26,356.4" fill="#c2d8a4"/>
<polygon points="431.2,349.94 427.84,355.7 434.56,355.7" fill="#c2d8a4"/>
<polygon points="456.5,326.24 453.14,332 459.86,332" fill="#c2d8a4"/>
<polygon points="481.8,343.14 478.44,348.9 485.16,348.9" fill="#c2d8a4"/>
<polygon points="507.1,285.44 503.74,291.2 510.46,291.2" fill="#c2d8a4"/>
<line x1="380.6" y1="369.7" x2="380.6" y2="361.3" stroke="#44663a" stroke-width="1.4" stroke-linecap="butt"/>
<line x1="378.2" y1="361.3" x2="383" y2="361.3" stroke="#44663a" stroke-width="1.5" stroke-linecap="butt"/>
<line x1="405.9" y1="349.2" x2="405.9" y2="338.5" stroke="#44663a" stroke-width="1.4" stroke-linecap="butt"/>
<line x1="403.5" y1="338.5" x2="408.3" y2="338.5" stroke="#44663a" stroke-width="1.5" stroke-linecap="butt"/>
<line x1="431.2" y1="346.5" x2="431.2" y2="329.8" stroke="#44663a" stroke-width="1.4" stroke-linecap="butt"/>
<line x1="428.8" y1="329.8" x2="433.6" y2="329.8" stroke="#44663a" stroke-width="1.5" stroke-linecap="butt"/>
<line x1="456.5" y1="341.2" x2="456.5" y2="327.6" stroke="#44663a" stroke-width="1.4" stroke-linecap="butt"/>
<line x1="454.1" y1="327.6" x2="458.9" y2="327.6" stroke="#44663a" stroke-width="1.5" stroke-linecap="butt"/>
<line x1="481.8" y1="347.2" x2="481.8" y2="335.5" stroke="#44663a" stroke-width="1.4" stroke-linecap="butt"/>
<line x1="479.4" y1="335.5" x2="484.2" y2="335.5" stroke="#44663a" stroke-width="1.5" stroke-linecap="butt"/>
<line x1="507.1" y1="333.5" x2="507.1" y2="320.4" stroke="#44663a" stroke-width="1.4" stroke-linecap="butt"/>
<line x1="504.7" y1="320.4" x2="509.5" y2="320.4" stroke="#44663a" stroke-width="1.5" stroke-linecap="butt"/>
<polyline points="330,386 355.3,380.3 380.6,369.7 405.9,349.2 431.2,346.5 456.5,341.2 481.8,347.2 507.1,333.5" fill="none" stroke="#579a36" stroke-width="1.9" stroke-linejoin="round"/>
<polygon points="330,382.54 326.54,388.48 333.46,388.48" fill="#5aa035"/>
<polygon points="355.3,376.84 351.84,382.78 358.76,382.78" fill="#5aa035"/>
<polygon points="380.6,366.24 377.14,372.18 384.06,372.18" fill="#5aa035"/>
<polygon points="405.9,345.74 402.44,351.68 409.36,351.68" fill="#5aa035"/>
<polygon points="431.2,343.04 427.74,348.98 434.66,348.98" fill="#5aa035"/>
<polygon points="456.5,337.74 453.04,343.68 459.96,343.68" fill="#5aa035"/>
<polygon points="481.8,343.74 478.34,349.68 485.26,349.68" fill="#5aa035"/>
<polygon points="507.1,330.04 503.64,335.98 510.56,335.98" fill="#5aa035"/>
<line x1="324.5" y1="254.3" x2="345" y2="254.3" stroke="#4f8a30" stroke-width="1.8" stroke-linecap="butt"/>
<polygon points="334.6,250.94 331.24,256.7 337.96,256.7" fill="#5aa035"/>
<text x="348.8" y="257" font-size="8.4" fill="#62904a" text-anchor="start" textLength="77.3" lengthAdjust="spacingAndGlyphs">hCD3 Females, n=43</text>
<line x1="324.5" y1="270.8" x2="345" y2="270.8" stroke="#b8cca0" stroke-width="1.6" stroke-linecap="butt" stroke-dasharray="3,2"/>
<polygon points="334.6,267.44 331.24,273.2 337.96,273.2" fill="#c2d8a4"/>
<text x="348.8" y="272.6" font-size="8.4" fill="#c0d0b0" text-anchor="start" textLength="67.6" lengthAdjust="spacingAndGlyphs">hCD3 Males, n=15</text>
<line x1="53.2" y1="199" x2="510.2" y2="199" stroke="#000" stroke-width="1.9" stroke-linecap="butt"/>
<text x="281.5" y="211.7" font-size="10.6" fill="#111" text-anchor="middle" textLength="18" lengthAdjust="spacingAndGlyphs" stroke="#111" stroke-width="0.35">Week</text>
<line x1="53.1" y1="421" x2="509.9" y2="421" stroke="#000" stroke-width="1.9" stroke-linecap="butt"/>
<text x="281.5" y="433.9" font-size="10.6" fill="#111" text-anchor="middle" textLength="18.5" lengthAdjust="spacingAndGlyphs" stroke="#111" stroke-width="0.35">Week</text>
<line x1="53" y1="526.5" x2="53" y2="657.05" stroke="#000" stroke-width="1.5" stroke-linecap="butt"/>
<line x1="49.4" y1="529.7" x2="53" y2="529.7" stroke="#000" stroke-width="1.4" stroke-linecap="butt"/>
<text x="45.9" y="532.5" font-size="8.3" fill="#333" text-anchor="end">16</text>
<line x1="49.4" y1="561.35" x2="53" y2="561.35" stroke="#000" stroke-width="1.4" stroke-linecap="butt"/>
<text x="45.9" y="564.15" font-size="8.3" fill="#333" text-anchor="end">12</text>
<line x1="49.4" y1="593" x2="53" y2="593" stroke="#000" stroke-width="1.4" stroke-linecap="butt"/>
<text x="45.9" y="595.8" font-size="8.3" fill="#333" text-anchor="end">8</text>
<line x1="49.4" y1="624.65" x2="53" y2="624.65" stroke="#000" stroke-width="1.4" stroke-linecap="butt"/>
<text x="45.9" y="627.45" font-size="8.3" fill="#333" text-anchor="end">4</text>
<line x1="49.4" y1="656.3" x2="53" y2="656.3" stroke="#000" stroke-width="1.4" stroke-linecap="butt"/>
<text x="45.9" y="659.1" font-size="8.3" fill="#333" text-anchor="end">0</text>
<line x1="49.6" y1="656.3" x2="53" y2="656.3" stroke="#000" stroke-width="1.5" stroke-linecap="butt"/>
<line x1="53" y1="656.3" x2="243" y2="656.3" stroke="#000" stroke-width="1.5" stroke-linecap="butt"/>
<line x1="100.4" y1="656.3" x2="100.4" y2="660.1" stroke="#000" stroke-width="1.4" stroke-linecap="butt"/>
<line x1="195.4" y1="656.3" x2="195.4" y2="660.1" stroke="#000" stroke-width="1.4" stroke-linecap="butt"/>
<text x="100.4" y="671.5" font-size="8.6" fill="#333" text-anchor="middle" textLength="27.3" lengthAdjust="spacingAndGlyphs">hCD45</text>
<text x="195.5" y="671.5" font-size="8.6" fill="#333" text-anchor="middle" textLength="27.7" lengthAdjust="spacingAndGlyphs">hCD19</text>
<text x="29.9" y="591.4" font-size="9.8" fill="#333" text-anchor="middle" textLength="62" lengthAdjust="spacingAndGlyphs" transform="rotate(-90 29.9 591.4)" stroke="#333" stroke-width="0.3">% among BM cells</text>
<path d="M71,655.6 V585.8 H95 V655.6" fill="none" stroke="#b0304e" stroke-width="1.15"/>
<line x1="83" y1="585.8" x2="83" y2="568.6" stroke="#5a2030" stroke-width="1.4" stroke-linecap="butt"/>
<line x1="78.5" y1="568.6" x2="87.5" y2="568.6" stroke="#5a2030" stroke-width="1.5" stroke-linecap="butt"/>
<circle cx="79.1" cy="533.9" r="2.5" fill="none" stroke="#8c2444" stroke-width="1.3"/>
<circle cx="86.5" cy="539" r="2.5" fill="none" stroke="#8c2444" stroke-width="1.3"/>
<circle cx="82.9" cy="578.9" r="2.5" fill="none" stroke="#8c2444" stroke-width="1.3"/>
<circle cx="79.1" cy="613.8" r="2.5" fill="none" stroke="#8c2444" stroke-width="1.3"/>
<circle cx="86.5" cy="620.8" r="2.5" fill="none" stroke="#8c2444" stroke-width="1.3"/>
<circle cx="82.9" cy="630.9" r="2.5" fill="none" stroke="#8c2444" stroke-width="1.3"/>
<path d="M106.7,655.6 V626.5 H130.5 V655.6" fill="none" stroke="#44557a" stroke-width="1.15"/>
<line x1="118.6" y1="626.5" x2="118.6" y2="618.2" stroke="#1e2a44" stroke-width="1.4" stroke-linecap="butt"/>
<line x1="114.1" y1="618.2" x2="123.1" y2="618.2" stroke="#1e2a44" stroke-width="1.5" stroke-linecap="butt"/>
<circle cx="118.9" cy="588" r="2.5" fill="none" stroke="#2e3b5c" stroke-width="1.3"/>
<circle cx="118.9" cy="616.1" r="2.5" fill="none" stroke="#2e3b5c" stroke-width="1.3"/>
<circle cx="114.6" cy="634.5" r="2.5" fill="none" stroke="#2e3b5c" stroke-width="1.3"/>
<circle cx="122" cy="639.4" r="2.5" fill="none" stroke="#2e3b5c" stroke-width="1.3"/>
<circle cx="126.3" cy="636" r="2.5" fill="none" stroke="#2e3b5c" stroke-width="1.3"/>
<circle cx="114.6" cy="646.2" r="2.5" fill="none" stroke="#2e3b5c" stroke-width="1.3"/>
<path d="M165.8,655.6 V644.6 H189.3 V655.6" fill="none" stroke="#b0304e" stroke-width="1.15"/>
<line x1="177.5" y1="644.6" x2="177.5" y2="639.4" stroke="#5a2030" stroke-width="1.4" stroke-linecap="butt"/>
<line x1="172" y1="639.4" x2="183" y2="639.4" stroke="#5a2030" stroke-width="1.5" stroke-linecap="butt"/>
<rect x="179" y="624" width="5" height="5" fill="none" stroke="#b0304e" stroke-width="1.3"/>
<rect x="171.1" y="631" width="5" height="5" fill="none" stroke="#b0304e" stroke-width="1.3"/>
<rect x="174.4" y="640.2" width="5" height="5" fill="none" stroke="#b0304e" stroke-width="1.3"/>
<rect x="167.3" y="649" width="5" height="5" fill="none" stroke="#b0304e" stroke-width="1.3"/>
<rect x="175.1" y="653.3" width="5" height="5" fill="none" stroke="#b0304e" stroke-width="1.3"/>
<rect x="182.7" y="651.1" width="5" height="5" fill="none" stroke="#b0304e" stroke-width="1.3"/>
<rect x="204.3" y="654" width="4.4" height="4.4" fill="none" stroke="#2e4a7e" stroke-width="1.3"/>
<rect x="207.3" y="652.2" width="4.4" height="4.4" fill="none" stroke="#2e4a7e" stroke-width="1.3"/>
<rect x="210.3" y="654.4" width="4.4" height="4.4" fill="none" stroke="#2e4a7e" stroke-width="1.3"/>
<rect x="213.3" y="652" width="4.4" height="4.4" fill="none" stroke="#2e4a7e" stroke-width="1.3"/>
<rect x="216.3" y="654.2" width="4.4" height="4.4" fill="none" stroke="#2e4a7e" stroke-width="1.3"/>
<rect x="218.8" y="652.6" width="4.4" height="4.4" fill="none" stroke="#2e4a7e" stroke-width="1.3"/>
<text x="99.9" y="521" font-size="8.4" fill="#222" text-anchor="middle" textLength="29.3" lengthAdjust="spacingAndGlyphs">*p&lt;0.05</text>
<line x1="81.6" y1="525.8" x2="118.5" y2="525.8" stroke="#2a2a2a" stroke-width="1.5" stroke-linecap="butt"/>
<text x="198.2" y="607.8" font-size="8.4" fill="#222" text-anchor="middle" textLength="29.6" lengthAdjust="spacingAndGlyphs">*p&lt;0.05</text>
<line x1="179.3" y1="612.8" x2="216.1" y2="612.8" stroke="#2a2a2a" stroke-width="1.5" stroke-linecap="butt"/>
<rect x="106.4" y="471.6" width="25.2" height="9.8" fill="none" stroke="#b0304e" stroke-width="1.4"/>
<text x="134.6" y="479.3" font-size="8.2" fill="#a83a55" text-anchor="start" textLength="48.1" lengthAdjust="spacingAndGlyphs">Females, n=6</text>
<rect x="106.4" y="492.3" width="25.2" height="9.6" fill="none" stroke="#3c4a66" stroke-width="1.4"/>
<text x="134.6" y="499.9" font-size="8.2" fill="#3e5078" text-anchor="start" textLength="39.4" lengthAdjust="spacingAndGlyphs">Males, n=6</text>
<line x1="317.3" y1="526.3" x2="317.3" y2="657.05" stroke="#000" stroke-width="1.5" stroke-linecap="butt"/>
<line x1="313.7" y1="529.9" x2="317.3" y2="529.9" stroke="#000" stroke-width="1.4" stroke-linecap="butt"/>
<text x="310.7" y="532.7" font-size="8.7" fill="#333" text-anchor="end">4.50</text>
<line x1="313.7" y1="550.97" x2="317.3" y2="550.97" stroke="#000" stroke-width="1.4" stroke-linecap="butt"/>
<text x="310.7" y="553.77" font-size="8.7" fill="#333" text-anchor="end">3.75</text>
<line x1="313.7" y1="572.04" x2="317.3" y2="572.04" stroke="#000" stroke-width="1.4" stroke-linecap="butt"/>
<text x="310.7" y="574.84" font-size="8.7" fill="#333" text-anchor="end">3.00</text>
<line x1="313.7" y1="593.11" x2="317.3" y2="593.11" stroke="#000" stroke-width="1.4" stroke-linecap="butt"/>
<text x="310.7" y="595.91" font-size="8.7" fill="#333" text-anchor="end">2.25</text>
<line x1="313.7" y1="614.18" x2="317.3" y2="614.18" stroke="#000" stroke-width="1.4" stroke-linecap="butt"/>
<text x="310.7" y="616.98" font-size="8.7" fill="#333" text-anchor="end">1.50</text>
<line x1="313.7" y1="635.25" x2="317.3" y2="635.25" stroke="#000" stroke-width="1.4" stroke-linecap="butt"/>
<text x="310.7" y="638.05" font-size="8.7" fill="#333" text-anchor="end">0.75</text>
<line x1="313.7" y1="656.32" x2="317.3" y2="656.32" stroke="#000" stroke-width="1.4" stroke-linecap="butt"/>
<text x="310.7" y="659.12" font-size="8.7" fill="#333" text-anchor="end">0.00</text>
<line x1="317.3" y1="656.3" x2="507.4" y2="656.3" stroke="#000" stroke-width="1.5" stroke-linecap="butt"/>
<line x1="364.6" y1="656.3" x2="364.6" y2="660.1" stroke="#000" stroke-width="1.4" stroke-linecap="butt"/>
<line x1="459.6" y1="656.3" x2="459.6" y2="660.1" stroke="#000" stroke-width="1.4" stroke-linecap="butt"/>
<text x="364.3" y="671.5" font-size="8.6" fill="#333" text-anchor="middle" textLength="27.6" lengthAdjust="spacingAndGlyphs">hCD45</text>
<text x="459.8" y="671.5" font-size="8.6" fill="#333" text-anchor="middle" textLength="27.3" lengthAdjust="spacingAndGlyphs">hCD19</text>
<text x="287" y="591.4" font-size="9.8" fill="#333" text-anchor="middle" textLength="79.2" lengthAdjust="spacingAndGlyphs" transform="rotate(-90 287 591.4)" stroke="#333" stroke-width="0.3">n of cells in BM (X10e3)</text>
<path d="M335,655.6 V595.1 H359.6 V655.6" fill="none" stroke="#b0304e" stroke-width="1.15"/>
<line x1="347.6" y1="595.1" x2="347.6" y2="579.8" stroke="#5a2030" stroke-width="1.4" stroke-linecap="butt"/>
<line x1="342.6" y1="579.8" x2="352.6" y2="579.8" stroke="#5a2030" stroke-width="1.5" stroke-linecap="butt"/>
<circle cx="347.3" cy="537" r="2.5" fill="none" stroke="#8c2444" stroke-width="1.3"/>
<circle cx="347.3" cy="566.1" r="2.5" fill="none" stroke="#8c2444" stroke-width="1.3"/>
<circle cx="347.3" cy="596.8" r="2.5" fill="none" stroke="#8c2444" stroke-width="1.3"/>
<circle cx="343.1" cy="616.4" r="2.5" fill="none" stroke="#8c2444" stroke-width="1.3"/>
<circle cx="350.9" cy="619.2" r="2.5" fill="none" stroke="#8c2444" stroke-width="1.3"/>
<circle cx="347.3" cy="635.8" r="2.5" fill="none" stroke="#8c2444" stroke-width="1.3"/>
<path d="M371.8,655.6 V629.9 H395.8 V655.6" fill="none" stroke="#44557a" stroke-width="1.15"/>
<line x1="382.8" y1="629.9" x2="382.8" y2="626.2" stroke="#1e2a44" stroke-width="1.4" stroke-linecap="butt"/>
<line x1="376.9" y1="626.2" x2="388.7" y2="626.2" stroke="#1e2a44" stroke-width="1.5" stroke-linecap="butt"/>
<circle cx="379.2" cy="621.1" r="2.5" fill="none" stroke="#2e3b5c" stroke-width="1.3"/>
<circle cx="386.8" cy="617.3" r="2.5" fill="none" stroke="#2e3b5c" stroke-width="1.3"/>
<circle cx="375" cy="632.2" r="2.5" fill="none" stroke="#2e3b5c" stroke-width="1.3"/>
<circle cx="382.1" cy="634.1" r="2.5" fill="none" stroke="#2e3b5c" stroke-width="1.3"/>
<circle cx="389.9" cy="630.6" r="2.5" fill="none" stroke="#2e3b5c" stroke-width="1.3"/>
<circle cx="382.8" cy="645.2" r="2.5" fill="none" stroke="#2e3b5c" stroke-width="1.3"/>
<path d="M429.8,655.6 V645.4 H453.8 V655.6" fill="none" stroke="#b0304e" stroke-width="1.15"/>
<line x1="442" y1="645.4" x2="442" y2="641.4" stroke="#5a2030" stroke-width="1.4" stroke-linecap="butt"/>
<line x1="436" y1="641.4" x2="448" y2="641.4" stroke="#5a2030" stroke-width="1.5" stroke-linecap="butt"/>
<rect x="435.2" y="630.7" width="5" height="5" fill="none" stroke="#b0304e" stroke-width="1.3"/>
<rect x="442.8" y="630.7" width="5" height="5" fill="none" stroke="#b0304e" stroke-width="1.3"/>
<rect x="438.7" y="640.6" width="5" height="5" fill="none" stroke="#b0304e" stroke-width="1.3"/>
<rect x="431.3" y="649.8" width="5" height="5" fill="none" stroke="#b0304e" stroke-width="1.3"/>
<rect x="439.3" y="653.8" width="5" height="5" fill="none" stroke="#b0304e" stroke-width="1.3"/>
<rect x="446.7" y="650.3" width="5" height="5" fill="none" stroke="#b0304e" stroke-width="1.3"/>
<rect x="468.1" y="654" width="4.4" height="4.4" fill="none" stroke="#2e4a7e" stroke-width="1.3"/>
<rect x="471.1" y="652" width="4.4" height="4.4" fill="none" stroke="#2e4a7e" stroke-width="1.3"/>
<rect x="474.3" y="654.2" width="4.4" height="4.4" fill="none" stroke="#2e4a7e" stroke-width="1.3"/>
<rect x="477.3" y="651.8" width="4.4" height="4.4" fill="none" stroke="#2e4a7e" stroke-width="1.3"/>
<rect x="480.3" y="654" width="4.4" height="4.4" fill="none" stroke="#2e4a7e" stroke-width="1.3"/>
<rect x="482.4" y="652.4" width="4.4" height="4.4" fill="none" stroke="#2e4a7e" stroke-width="1.3"/>
<text x="462.3" y="607.6" font-size="8.4" fill="#222" text-anchor="middle" textLength="29.3" lengthAdjust="spacingAndGlyphs">*p&lt;0.05</text>
<line x1="443.5" y1="612.8" x2="480.9" y2="612.8" stroke="#2a2a2a" stroke-width="1.5" stroke-linecap="butt"/>
<rect x="370.8" y="471.6" width="25.2" height="9.8" fill="none" stroke="#b0304e" stroke-width="1.4"/>
<text x="399.4" y="479.3" font-size="8.2" fill="#a83a55" text-anchor="start" textLength="47.5" lengthAdjust="spacingAndGlyphs">Females, n=6</text>
<rect x="370.8" y="492.3" width="25.2" height="9.6" fill="none" stroke="#3c4a66" stroke-width="1.4"/>
<text x="399.4" y="499.9" font-size="8.2" fill="#3e5078" text-anchor="start" textLength="39.4" lengthAdjust="spacingAndGlyphs">Males, n=6</text>
<rect x="0.8" y="0.8" width="518.4" height="679.4" fill="none" stroke="#000" stroke-width="1.6"/>
</svg></body></html>
